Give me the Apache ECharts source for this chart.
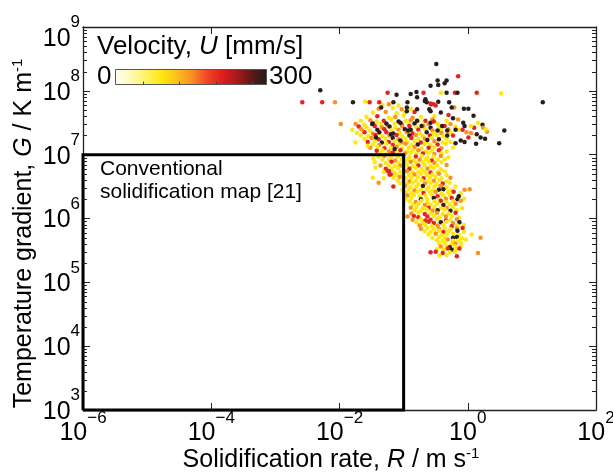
<!DOCTYPE html>
<html><head><meta charset="utf-8">
<script src="https://cdn.jsdelivr.net/npm/echarts@6/dist/echarts.min.js"></script>
<style>html,body{margin:0;padding:0;background:#fff}#c{width:613px;height:472px}</style>
</head><body><div id="c"></div>
<script>
const FONT = '"Liberation Sans", Arial, Helvetica, sans-serif';
const xRange = [1e-6, 1e2];
const yRange = [1e3, 1e9];
const mapBoxR = [1e-6, 1e-1];
const mapBoxG = [1e3, 1e7];
const velocityRange = [0, 300];
const colorStops = ['#fffff5','#fffbb8','#fff36a','#ffe812','#fcc21a','#f99224','#f04a28','#e21d1d','#a81a1a','#5e1818','#1e1e1e'];
const colorbarTicks = [55, 128, 201, 273];
const mapLabel = ['Conventional', 'solidification map [21]'];

// [log10 R (m/s), log10 G (K/m), U (mm/s)]
const clusterPoints = [
[-1.33,7.78,90],[-1.23,7.79,150],[-1.08,7.77,90],
[-1.39,7.72,150],[-1.17,7.73,90],[-1.03,7.71,150],[-0.89,7.72,90],
[-1.48,7.66,90],[-1.28,7.67,150],[-1.11,7.65,90],[-0.98,7.66,90],[-0.83,7.67,205],
[-1.58,7.59,90],[-1.41,7.60,205],[-1.23,7.58,90],[-1.13,7.59,150],[-1.00,7.61,90],[-0.86,7.58,150],[-0.73,7.59,90],[-0.52,7.60,90],
[-1.67,7.53,90],[-1.52,7.54,150],[-1.42,7.52,90],[-1.31,7.53,205],[-1.19,7.55,90],[-1.08,7.52,295],[-0.97,7.53,90],[-0.89,7.54,150],[-0.77,7.52,90],[-0.66,7.53,205],[-0.55,7.55,150],[-0.33,7.53,90],
[-1.98,7.48,150],[-1.75,7.48,150],[-1.61,7.47,90],[-1.48,7.49,295],[-1.36,7.48,90],[-1.25,7.46,150],[-1.14,7.49,90],[-1.03,7.47,205],[-0.92,7.48,90],[-0.83,7.49,295],[-0.70,7.47,90],[-0.61,7.48,150],[-0.47,7.49,90],[-0.27,7.48,150],
[-1.70,7.44,205],[-1.58,7.43,90],[-1.45,7.45,205],[-1.34,7.43,150],[-1.22,7.44,295],[-1.13,7.42,90],[-1.02,7.44,150],[-0.91,7.45,205],[-0.80,7.43,90],[-0.69,7.44,150],[-0.58,7.42,295],[-0.45,7.44,90],[-0.36,7.45,205],[-0.19,7.44,90],
[-1.80,7.39,90],[-1.66,7.40,150],[-1.53,7.38,90],[-1.41,7.39,295],[-1.30,7.40,205],[-1.19,7.38,90],[-1.08,7.39,150],[-0.98,7.40,295],[-0.88,7.38,90],[-0.77,7.39,205],[-0.66,7.40,90],[-0.55,7.38,150],[-0.42,7.39,90],[-0.30,7.40,150],[-0.14,7.39,90],
[-1.73,7.34,90],[-1.61,7.35,205],[-1.48,7.33,150],[-1.38,7.34,90],[-1.27,7.35,205],[-1.16,7.33,295],[-1.06,7.34,90],[-0.95,7.35,150],[-0.86,7.33,205],[-0.75,7.34,90],[-0.64,7.35,295],[-0.53,7.33,90],[-0.41,7.34,150],[-0.27,7.35,90],[0.05,7.34,150],
[-1.67,7.30,90],[-1.55,7.29,90],[-1.44,7.31,205],[-1.33,7.29,90],[-1.22,7.30,150],[-1.11,7.31,205],[-1.02,7.29,90],[-0.91,7.30,295],[-0.81,7.31,150],[-0.70,7.29,90],[-0.59,7.30,205],[-0.48,7.31,90],[-0.38,7.29,90],[-0.23,7.30,205],
[-1.61,7.25,90],[-1.50,7.26,150],[-1.39,7.24,205],[-1.28,7.25,90],[-1.17,7.26,295],[-1.08,7.24,150],[-0.97,7.25,90],[-0.88,7.26,205],[-0.77,7.24,90],[-0.67,7.25,150],[-0.56,7.26,90],[-0.45,7.24,295],[-0.33,7.25,90],
[-1.56,7.20,205],[-1.45,7.21,90],[-1.34,7.19,295],[-1.23,7.20,205],[-1.14,7.21,90],[-1.03,7.19,150],[-0.94,7.20,90],[-0.83,7.21,90],[-0.73,7.19,205],[-0.63,7.20,90],[-0.52,7.21,150],[-0.39,7.19,90],[-0.27,7.20,90],
[-1.48,7.16,90],[-1.38,7.15,150],[-1.27,7.17,90],[-1.17,7.15,205],[-1.08,7.16,90],[-0.97,7.17,150],[-0.88,7.15,90],[-0.78,7.16,295],[-0.67,7.17,90],[-0.58,7.15,90],[-0.47,7.16,205],[-0.34,7.17,90],
[-1.52,7.11,150],[-1.41,7.12,90],[-1.30,7.10,205],[-1.20,7.11,90],[-1.11,7.12,150],[-1.02,7.10,90],[-0.92,7.11,90],[-0.83,7.12,150],[-0.72,7.10,90],[-0.61,7.11,205],[-0.52,7.12,90],[-0.41,7.10,150],[-0.23,7.11,90],
[-1.42,7.06,205],[-1.33,7.07,90],[-1.23,7.05,150],[-1.14,7.06,90],[-1.05,7.07,205],[-0.95,7.05,90],[-0.86,7.06,90],[-0.77,7.07,150],[-0.66,7.05,90],[-0.56,7.06,90],[-0.45,7.07,205],[-0.33,7.05,90],
[-1.36,7.02,90],[-1.27,7.01,90],[-1.17,7.03,205],[-1.08,7.01,90],[-0.98,7.02,150],[-0.89,7.03,90],[-0.80,7.01,90],[-0.70,7.02,205],[-0.61,7.03,90],[-0.52,7.01,150],[-0.41,7.02,90],
[-1.39,6.97,90],[-1.30,6.98,150],[-1.20,6.96,90],[-1.09,6.97,90],[-1.00,6.98,150],[-0.91,6.96,90],[-0.81,6.97,205],[-0.72,6.98,90],[-0.63,6.96,90],[-0.53,6.97,90],[-0.42,6.98,150],[-0.30,6.96,90],
[-1.33,6.92,90],[-1.23,6.93,90],[-1.13,6.91,150],[-1.03,6.92,90],[-0.94,6.93,90],[-0.84,6.91,90],[-0.75,6.92,150],[-0.66,6.93,90],[-0.56,6.91,205],[-0.47,6.92,90],[-0.36,6.93,90],
[-1.45,6.88,90],[-1.28,6.87,90],[-1.19,6.89,205],[-1.08,6.87,90],[-0.98,6.88,90],[-0.89,6.89,150],[-0.80,6.87,90],[-0.70,6.88,90],[-0.61,6.89,90],[-0.52,6.87,150],[-0.41,6.88,90],
[-1.36,6.83,150],[-1.23,6.84,90],[-1.14,6.82,90],[-1.05,6.83,150],[-0.95,6.84,90],[-0.86,6.82,90],[-0.77,6.83,205],[-0.67,6.84,90],[-0.58,6.82,90],[-0.48,6.83,90],[-0.33,6.84,150],
[-1.28,6.78,205],[-1.19,6.77,90],[-1.09,6.79,90],[-1.00,6.77,90],[-0.91,6.78,205],[-0.81,6.79,90],[-0.72,6.77,90],[-0.63,6.78,150],[-0.53,6.79,90],[-0.42,6.77,90],
[-1.31,6.73,90],[-1.23,6.74,205],[-1.14,6.72,90],[-1.05,6.73,90],[-0.95,6.74,150],[-0.86,6.72,90],[-0.77,6.73,90],[-0.67,6.74,90],[-0.58,6.72,205],[-0.47,6.73,90],[-0.36,6.74,90],
[-1.20,6.69,205],[-1.11,6.68,90],[-1.02,6.70,90],[-0.92,6.68,90],[-0.83,6.69,150],[-0.73,6.70,90],[-0.64,6.68,90],[-0.55,6.69,90],[-0.45,6.70,150],[-0.33,6.68,90],
[-1.16,6.64,90],[-1.06,6.65,150],[-0.97,6.63,90],[-0.88,6.64,90],[-0.78,6.65,90],[-0.69,6.63,205],[-0.59,6.64,90],[-0.50,6.65,90],[-0.41,6.63,90],[-0.27,6.64,150],
[-1.09,6.59,90],[-1.00,6.60,90],[-0.91,6.58,150],[-0.81,6.59,90],[-0.72,6.60,90],[-0.63,6.58,90],[-0.53,6.59,150],[-0.44,6.60,90],[-0.33,6.58,90],
[-1.05,6.55,90],[-0.95,6.54,90],[-0.86,6.56,90],[-0.77,6.54,90],[-0.67,6.55,150],[-0.58,6.56,90],[-0.48,6.54,90],[-0.39,6.55,205],[-0.28,6.56,90],
[-1.16,6.50,205],[-0.98,6.51,150],[-0.89,6.49,90],[-0.80,6.50,90],[-0.70,6.51,295],[-0.61,6.49,90],[-0.52,6.50,90],[-0.42,6.51,150],[-0.33,6.49,90],[-0.19,6.50,90],
[-1.02,6.45,90],[-0.92,6.46,90],[-0.83,6.44,150],[-0.73,6.45,90],[-0.64,6.46,90],[-0.55,6.44,90],[-0.45,6.45,295],[-0.38,6.46,295],[-0.27,6.44,90],[-0.05,6.45,150],[0.03,6.46,150],
[-0.97,6.41,90],[-0.88,6.40,90],[-0.78,6.42,90],[-0.69,6.40,205],[-0.59,6.41,90],[-0.50,6.42,150],[-0.41,6.40,90],[-0.31,6.41,90],[-0.22,6.42,205],[-0.11,6.40,90],
[-0.94,6.36,150],[-0.84,6.37,90],[-0.75,6.35,90],[-0.66,6.36,90],[-0.56,6.37,90],[-0.47,6.35,205],[-0.38,6.36,90],[-0.28,6.37,90],[-0.14,6.35,295],
[-0.97,6.31,90],[-0.88,6.32,90],[-0.73,6.30,295],[-0.64,6.31,90],[-0.53,6.32,295],[-0.44,6.30,90],[-0.34,6.31,150],[-0.25,6.32,205],[-0.16,6.30,295],[-0.06,6.31,90],
[-0.91,6.27,90],[-0.81,6.26,150],[-0.72,6.28,90],[-0.63,6.26,90],[-0.52,6.27,90],[-0.42,6.28,205],[-0.33,6.26,90],[-0.23,6.27,90],[-0.11,6.28,150],
[-0.86,6.22,90],[-0.77,6.23,90],[-0.67,6.21,150],[-0.58,6.22,90],[-0.48,6.23,90],[-0.38,6.21,295],[-0.28,6.22,90],[-0.19,6.23,150],
[-0.89,6.17,150],[-0.80,6.18,90],[-0.70,6.16,90],[-0.61,6.17,205],[-0.52,6.18,90],[-0.42,6.16,90],[-0.33,6.17,150],[-0.23,6.18,90],[-0.09,6.16,90],
[-0.83,6.13,90],[-0.73,6.12,90],[-0.64,6.14,90],[-0.55,6.12,150],[-0.47,6.13,295],[-0.36,6.14,90],[-0.27,6.12,295],[-0.17,6.13,90],
[-0.88,6.08,150],[-0.77,6.09,90],[-0.67,6.07,205],[-0.58,6.08,90],[-0.48,6.09,150],[-0.39,6.07,90],[-0.30,6.08,90],[-0.19,6.09,205],
[-0.94,6.03,150],[-0.84,6.04,205],[-0.77,6.02,205],[-0.63,6.03,205],[-0.53,6.04,90],[-0.44,6.02,90],[-0.34,6.03,150],[-0.25,6.04,90],[-0.14,6.02,90],
[-0.86,5.98,150],[-0.73,5.99,90],[-0.66,5.97,205],[-0.58,5.98,205],[-0.48,5.99,90],[-0.34,5.97,205],[-0.27,5.98,90],[-0.17,5.99,150],
[-0.80,5.94,90],[-0.70,5.93,90],[-0.61,5.95,205],[-0.53,5.93,205],[-0.42,5.94,295],[-0.33,5.95,90],[-0.23,5.93,150],[-0.13,5.94,295],
[-0.75,5.89,150],[-0.66,5.90,90],[-0.56,5.88,90],[-0.47,5.89,150],[-0.38,5.90,90],[-0.25,5.88,205],[-0.17,5.89,90],[-0.06,5.90,90],
[-0.73,5.84,150],[-0.63,5.85,90],[-0.53,5.83,90],[-0.45,5.84,150],[-0.36,5.85,90],[-0.27,5.83,90],[-0.17,5.84,150],[-0.08,5.85,205],
[-0.67,5.80,90],[-0.58,5.79,90],[-0.45,5.81,90],[-0.38,5.79,205],[-0.30,5.80,90],[-0.16,5.81,295],[-0.06,5.79,90],
[-0.61,5.75,90],[-0.50,5.76,150],[-0.41,5.74,90],[-0.33,5.75,90],[-0.23,5.76,90],[-0.14,5.74,90],[0.06,5.75,90],
[-0.55,5.70,90],[-0.45,5.71,90],[-0.36,5.69,90],[-0.23,5.70,295],[-0.17,5.71,295],[-0.09,5.69,90],[0.20,5.70,150],
[-0.48,5.66,90],[-0.39,5.65,90],[-0.31,5.67,150],[-0.23,5.65,90],[-0.14,5.66,90],[-0.03,5.67,90],
[-0.45,5.61,90],[-0.36,5.62,90],[-0.25,5.60,90],[-0.19,5.61,150],[-0.11,5.62,90],
[-0.42,5.56,150],[-0.33,5.57,90],[-0.28,5.55,295],[-0.20,5.56,90],[-0.11,5.57,90],
[-0.48,5.52,90],[-0.38,5.51,90],[-0.31,5.53,205],[-0.25,5.51,295],[-0.17,5.52,90],[-0.13,5.53,205],
[-0.58,5.47,205],[-0.50,5.48,205],[-0.39,5.46,205],[-0.28,5.47,90],[-0.20,5.48,90],[0.16,5.46,150],
[-0.44,5.42,90],[-0.33,5.43,90],[-0.17,5.41,205],
[-1.75,7.19,90],[-1.56,7.14,90],[-1.44,6.80,90],[-1.47,6.94,90],[-1.25,6.75,205],[-1.22,6.69,205],[-1.39,6.56,150],[-1.31,6.63,90],[-1.48,6.64,90]
];

const outlierPoints = [
[-0.49,8.42,295],[-0.15,8.23,205],[-0.47,8.16,295],[-0.46,8.09,295],[-0.33,8.16,295],[-0.36,8.12,295],[-0.58,8.08,295],
[-2.30,8.01,295],
[-1.25,7.97,205],[-1.11,7.94,295],[-0.89,7.95,295],[-0.80,7.98,295],[-0.69,7.97,205],[-0.42,7.97,90],[-0.33,7.97,295],[-0.20,7.97,205],[-0.16,7.97,295],[0.14,7.97,205],[0.52,7.96,90],
[1.17,7.82,295],
[-2.58,7.82,205],[-2.27,7.82,205],[-2.07,7.82,150],[-1.79,7.82,295],[-1.60,7.83,90],[-1.53,7.82,205],[-1.38,7.82,205],[-1.16,7.82,295],
[-0.66,7.87,295],[-0.64,7.82,295],[-0.67,7.84,295],[-0.79,7.90,295],[-0.94,7.82,295],[-0.57,7.79,295],[-0.53,7.79,205],[-0.46,7.83,295],[-0.29,7.82,295],
[-0.21,7.74,150],[-0.25,7.74,295],[-0.06,7.72,295],[0.01,7.72,295],[-1.35,7.74,295],[-0.95,7.74,295],[-0.95,7.68,295],[-0.79,7.71,295],[-0.60,7.71,295],
[-0.58,7.68,295],[-0.42,7.66,295],[0.09,7.61,295],[0.23,7.47,295],[0.10,7.42,205],[0.24,7.42,150],[0.57,7.38,295],[0.14,7.32,295],[0.20,7.27,295],
[0.27,7.25,295],[0.49,7.18,295],[0.13,7.17,295],[-0.11,7.22,295],[-0.05,7.20,295],[-0.19,7.18,295],[0.01,7.27,205],[-0.07,7.50,295],[-0.05,7.45,295],
[-0.23,7.57,295],[-0.19,7.39,295],[-0.08,7.39,205],[-0.47,7.38,295],[-0.40,7.45,295],[-0.32,7.38,295],[-0.63,7.23,295],[-0.32,7.30,295],[-0.58,7.50,295],
[-0.79,7.53,295],[-0.72,7.45,295],[-1.05,7.50,295],[-0.93,7.38,295],[-0.89,7.39,295],[-1.49,7.48,295],[-1.27,7.49,295],[-1.38,7.35,295],[-1.43,7.27,295],
[-1.20,7.32,295],[-1.14,7.09,295],[-1.05,7.22,295],
[-0.53,7.52,205],[-0.58,7.80,205],[-0.50,7.77,205],[-0.30,7.62,205],[-0.15,7.55,150],[-0.02,7.35,150],[0.05,7.45,90],[0.30,7.36,150],[0.28,7.40,90],[0.16,7.50,90]
];

const points = clusterPoints.concat(outlierPoints);
const scatterData = points.map(p => [Math.pow(10, p[0]), Math.pow(10, p[1]), p[2]]);

// log minor ticks on the G axis (2..9 x 10^n)
const minorG = [];
for (let n = 3; n < 9; n++) for (let k = 2; k <= 9; k++) minorG.push(k * Math.pow(10, n));

const boxData = [[mapBoxR[0], mapBoxG[0]], [mapBoxR[0], mapBoxG[1]], [mapBoxR[1], mapBoxG[1]], [mapBoxR[1], mapBoxG[0]], [mapBoxR[0], mapBoxG[0]]];

const expText = v => {
  const e = Math.round(Math.log10(v));
  return e < 0 ? '\u2212' + (-e) : String(e);
};

const xRich = {
  b: {fontFamily: FONT, fontSize: 25, lineHeight: 46, color: '#000'},
  s: {fontFamily: FONT, fontSize: 17, lineHeight: 17, color: '#000', verticalAlign: 'top'}
};
const yRich = {
  b: {fontFamily: FONT, fontSize: 25, lineHeight: 50, color: '#000'},
  s: {fontFamily: FONT, fontSize: 17, lineHeight: 17, color: '#000', verticalAlign: 'top'},
  g: {fontFamily: FONT, fontSize: 8, lineHeight: 20, color: 'rgba(0,0,0,0)'}
};
const titleRich = {
  t: {fontFamily: FONT, fontSize: 25, lineHeight: 27, color: '#000', verticalAlign: 'bottom'},
  i: {fontFamily: FONT, fontSize: 25, lineHeight: 27, color: '#000', fontStyle: 'italic', verticalAlign: 'bottom'},
  s: {fontFamily: FONT, fontSize: 15, lineHeight: 15, color: '#000', verticalAlign: 'top'}
};

const axisLineStyle = {color: '#222', width: 1.3};

const chart = echarts.init(document.getElementById('c'), null, {renderer: 'canvas'});

const cbX = 115, cbY = 69, cbW = 151, cbH = 15;
const gradStops = colorStops.map((c, i) => ({offset: i / (colorStops.length - 1), color: c}));

chart.setOption({
  backgroundColor: '#fff',
  animation: false,
  grid: {left: 83, right: 17, top: 27, bottom: 62, containLabel: false, outerBoundsMode: 'none'},
  xAxis: [{
    type: 'log', logBase: 10, min: xRange[0], max: xRange[1], interval: 2,
    position: 'bottom',
    axisLine: {show: true, lineStyle: axisLineStyle},
    axisTick: {show: true, inside: true, length: 7, lineStyle: {color: '#222', width: 1}},
    splitLine: {show: false}, minorTick: {show: false},
    axisLabel: {margin: 0, formatter: v => '{b|10}{s|' + expText(v) + '}', rich: xRich, showMinLabel: true, showMaxLabel: true, hideOverlap: false},
    name: '{t|Solidification rate, }{i|R}{t| / m s}{s|-1}',
    nameLocation: 'middle', nameGap: 36, nameMoveOverlap: false,
    nameTextStyle: {rich: titleRich, padding: [0, 17, 0, 0]}
  }, {
    type: 'log', logBase: 10, min: xRange[0], max: xRange[1], interval: 2,
    position: 'top',
    axisLine: {show: true, lineStyle: axisLineStyle},
    axisTick: {show: true, inside: true, length: 7, lineStyle: {color: '#222', width: 1}},
    axisLabel: {show: false}, splitLine: {show: false}
  }],
  yAxis: [{
    type: 'log', logBase: 10, min: yRange[0], max: yRange[1], interval: 1,
    position: 'left',
    axisLine: {show: true, lineStyle: axisLineStyle},
    axisTick: {show: true, inside: true, length: 7, lineStyle: {color: '#222', width: 1}},
    splitLine: {show: false},
    axisLabel: {
      margin: 3, padding: [4, 0, 0, 0],
      formatter: v => Math.round(Math.log10(v)) === 9 ? '{g| }\n{b|10}{s|9}' : '{b|10}{s|' + expText(v) + '}',
      rich: yRich, showMinLabel: true, showMaxLabel: true, hideOverlap: false
    },
    name: '{t|Temperature gradient, }{i|G}{t| / K m}{s|-1}',
    nameLocation: 'middle', nameGap: 46, nameMoveOverlap: false,
    nameTextStyle: {rich: titleRich, padding: [0, 30, 0, 0]}
  }, {
    type: 'log', logBase: 10, min: yRange[0], max: yRange[1], interval: 1,
    position: 'right',
    axisLine: {show: true, lineStyle: axisLineStyle},
    axisTick: {show: true, inside: true, length: 7, lineStyle: {color: '#222', width: 1}},
    axisLabel: {show: false}, splitLine: {show: false}
  }],
  visualMap: {
    type: 'continuous', show: false, min: velocityRange[0], max: velocityRange[1],
    dimension: 2, seriesIndex: 0, inRange: {color: colorStops}
  },
  series: [{
    type: 'scatter', xAxisIndex: 0, yAxisIndex: 0,
    data: scatterData, symbol: 'circle', symbolSize: 4.5,
    itemStyle: {opacity: 1}, z: 3, silent: true
  }, {
    type: 'line', xAxisIndex: 0, yAxisIndex: 0, data: boxData,
    symbol: 'none', clip: false, z: 5, silent: true,
    lineStyle: {color: '#000', width: 3, join: 'miter'}
  }, {
    type: 'custom', xAxisIndex: 0, yAxisIndex: 0, z: 6, silent: true, clip: false,
    data: minorG.map(g => [xRange[0], g]),
    encode: {x: 0, y: 1},
    renderItem: (params, api) => {
      const g = api.value(1);
      const p0 = api.coord([xRange[0], g]);
      const p1 = api.coord([xRange[1], g]);
      const y = Math.round(p0[1]) + 0.5;
      return {type: 'group', children: [
        {type: 'line', shape: {x1: p0[0], y1: y, x2: p0[0] + 4, y2: y}, style: {stroke: '#222', lineWidth: 1}},
        {type: 'line', shape: {x1: p1[0] - 4, y1: y, x2: p1[0], y2: y}, style: {stroke: '#222', lineWidth: 1}}
      ]};
    }
  }],
  graphic: [
    {type: 'text', left: 100, top: 158, z: 10, silent: true,
     style: {text: mapLabel.join('\n'), font: '21px ' + FONT, lineHeight: 23, fill: '#000'}},
    {type: 'text', x: 97, y: 47, z: 10, silent: true,
     style: {text: '{a|Velocity, }{i|U}{a| [mm/s]}', verticalAlign: 'middle',
       rich: {a: {fontFamily: FONT, fontSize: 26, color: '#000'}, i: {fontFamily: FONT, fontSize: 26, fontStyle: 'italic', color: '#000'}}}},
    {type: 'text', x: 97, y: 77, z: 10, silent: true,
     style: {text: String(velocityRange[0]), font: '26px ' + FONT, fill: '#000', verticalAlign: 'middle'}},
    {type: 'text', x: 269, y: 77, z: 10, silent: true,
     style: {text: String(velocityRange[1]), font: '26px ' + FONT, fill: '#000', verticalAlign: 'middle'}},
    {type: 'rect', z: 10, silent: true, shape: {x: cbX + 0.5, y: cbY + 0.5, width: cbW, height: cbH},
     style: {fill: new echarts.graphic.LinearGradient(0, 0, 1, 0, gradStops), stroke: '#555', lineWidth: 1}}
  ].concat(colorbarTicks.map(u => {
    const x = Math.round(cbX + cbW * (u - velocityRange[0]) / (velocityRange[1] - velocityRange[0])) + 0.5;
    return {type: 'line', z: 11, silent: true, shape: {x1: x, y1: cbY + cbH - 2.5, x2: x, y2: cbY + cbH + 0.5}, style: {stroke: '#444', lineWidth: 1}};
  }))
});
</script>
</body></html>
